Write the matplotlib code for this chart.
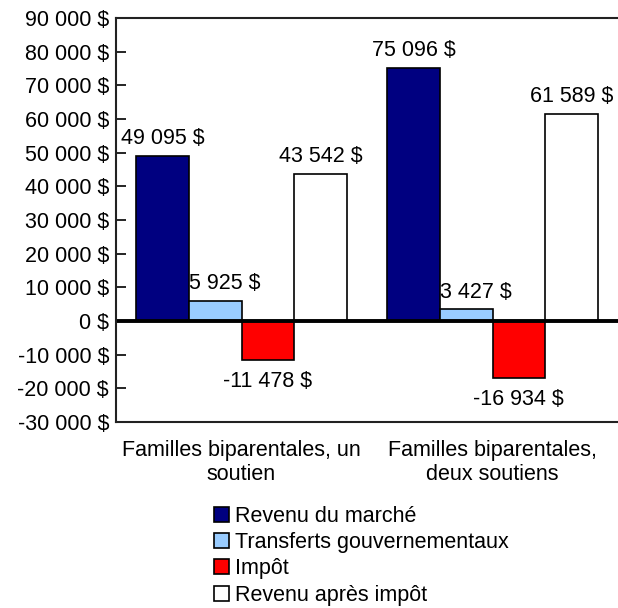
import numpy as np
import matplotlib
matplotlib.use('Agg')
import matplotlib.pyplot as plt
import matplotlib.ticker as mticker
from matplotlib.patches import Patch

plt.rcParams['font.family'] = ['Liberation Sans', 'DejaVu Sans']

categories = ["Familles biparentales, un\nsoutien",
              "Familles biparentales,\ndeux soutiens"]
series = ["Revenu du marché", "Transferts gouvernementaux", "Impôt",
          "Revenu après impôt"]
marche = [49095, 75096]
transferts = [5925, 3427]
impot = [-11478, -16934]
apres = [43542, 61589]
colors = ["#000080", "#99ccff", "#ff0000", "#ffffff"]

values = [marche, transferts, impot, apres]


def fmt(v):
    s = "{:,}".format(int(v)).replace(",", " ")
    return s + " $"


fig = plt.figure(figsize=(6.18, 6.08), dpi=100)
ax = fig.add_axes([116 / 618, 186 / 608, 502 / 618, 404 / 608])

x = np.arange(len(categories))
w = 0.21
fs = 15.5
for i, (vals, c) in enumerate(zip(values, colors)):
    pos = x + (i - 1.5) * w
    ax.bar(pos, vals, w, color=c, edgecolor="black", linewidth=1.2)
    for p, v in zip(pos, vals):
        if v >= 0:
            dx = 7 if i == 1 else 0
            ax.annotate(fmt(v), (p, v), xytext=(dx, 5), textcoords="offset points",
                        ha="center", va="bottom", fontsize=fs)
        else:
            ax.annotate(fmt(v), (p, v), xytext=(0, -8), textcoords="offset points",
                        ha="center", va="top", fontsize=fs)

ax.axhline(0, color="black", lw=2.8)
ax.set_xlim(-0.5, 1.5)
ax.set_ylim(-30000, 90000)
ax.yaxis.set_major_locator(mticker.MultipleLocator(10000))
ax.yaxis.set_major_formatter(mticker.FuncFormatter(lambda v, p: fmt(v)))
ax.tick_params(axis="y", direction="in", length=7, width=1.2, labelsize=fs, pad=5)
ax.set_xticks(x)
ax.set_xticklabels(categories, fontsize=fs)
ax.tick_params(axis="x", length=0, pad=13)
for s in ax.spines.values():
    s.set_linewidth(1.5)
    s.set_color("#222222")
ax.spines["right"].set_visible(False)

handles = [Patch(facecolor=c, edgecolor="black", linewidth=1.2) for c in colors]
fig.legend(handles, series, loc="upper left", bbox_to_anchor=(205 / 618, 1 - 497 / 608),
           frameon=False, fontsize=fs, handlelength=0.7, handleheight=0.7,
           handletextpad=0.3, labelspacing=0.25, borderaxespad=0)

fig.savefig("out.png", dpi=100)
